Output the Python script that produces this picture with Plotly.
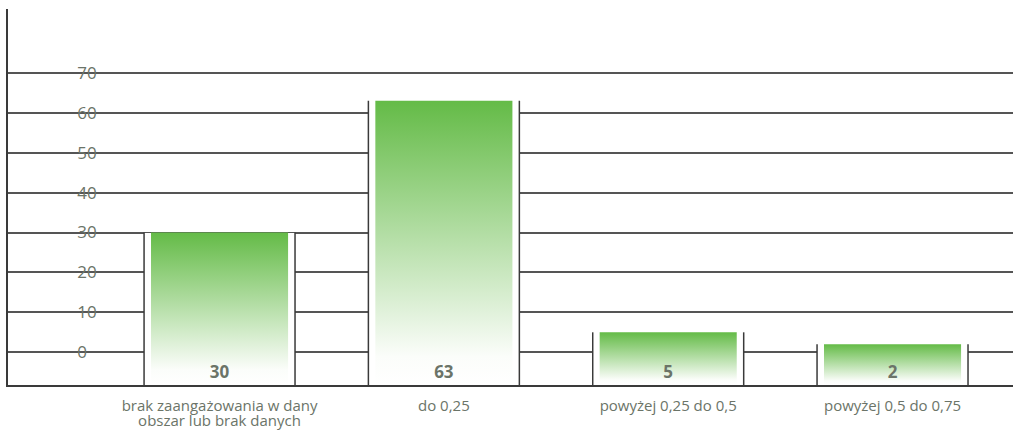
import plotly.graph_objects as go

categories = ["brak zaangażowania w dany<br>obszar lub brak danych", "do 0,25",
              "powyżej 0,25 do 0,5", "powyżej 0,5 do 0,75"]
values = [30, 63, 5, 2]
y_ticks = [0, 10, 20, 30, 40, 50, 60, 70]

# styling / layout constants
Y_MIN, Y_MAX = -8.2, 86.0
X_MIN, X_MAX = -0.943, 3.537
BAR_W = 0.611
GAP_W = 0.673
LABEL_Y = -5.4
TEXT_COLOR = "#6b7468"
LINE_COLOR = "#3a3a3a"
GREEN = "#64bb47"
FONT = "Open Sans"

xs = list(range(len(categories)))
line1 = [c.split("<br>")[0] for c in categories]
line2 = [c.split("<br>")[1] if "<br>" in c else "" for c in categories]

fig = go.Figure()

# white masks that interrupt gridlines around each bar
fig.add_trace(go.Bar(
    x=xs, y=[v - Y_MIN for v in values], base=Y_MIN, width=GAP_W,
    marker=dict(color="white", line=dict(width=0)),
    hoverinfo="skip", showlegend=False))

# vertical edge lines of masks
ex, ey = [], []
for i, v in zip(xs, values):
    for s in (-1, 1):
        ex += [i + s * GAP_W / 2, i + s * GAP_W / 2, None]
        ey += [Y_MIN, v, None]
fig.add_trace(go.Scatter(x=ex, y=ey, mode="lines",
                         line=dict(color=LINE_COLOR, width=1.5),
                         hoverinfo="skip", showlegend=False))

# gradient bars
for i, v in zip(xs, values):
    l, r = i - BAR_W / 2, i + BAR_W / 2
    fig.add_trace(go.Scatter(
        x=[l, r, r, l, l], y=[Y_MIN, Y_MIN, v, v, Y_MIN],
        mode="lines", fill="toself", line=dict(width=0, color="rgba(0,0,0,0)"),
        fillgradient=dict(type="vertical",
                          colorscale=[[0, "#ffffff"], [0.1, "#fbfdfa"], [1, GREEN]]),
        hoverinfo="skip", showlegend=False))

# value labels (on overlaying x2 axis, which carries the second label line)
fig.add_trace(go.Scatter(
    x=xs, y=[LABEL_Y] * len(xs), mode="text", text=[str(v) for v in values],
    xaxis="x2", yaxis="y",
    textfont=dict(family=FONT, size=17, color=TEXT_COLOR, weight="bold"),
    hoverinfo="skip", showlegend=False))

fig.update_layout(
    width=1013, height=430,
    margin=dict(l=8, r=0, t=9, b=45, autoexpand=False),
    plot_bgcolor="white", paper_bgcolor="white",
    font=dict(family=FONT, color=TEXT_COLOR),
    bargap=0,
    xaxis=dict(range=[X_MIN, X_MAX], tickmode="array", tickvals=xs, ticktext=line1,
               showgrid=False, zeroline=False, showline=True, linecolor=LINE_COLOR,
               linewidth=1.5, layer="below traces", ticks="", ticklabelstandoff=6,
               automargin=False,
               tickfont=dict(family=FONT, size=15, color=TEXT_COLOR)),
    xaxis2=dict(range=[X_MIN, X_MAX], overlaying="x", side="bottom",
                tickmode="array", tickvals=xs, ticktext=line2,
                showgrid=False, zeroline=False, showline=False, ticks="",
                ticklabelstandoff=25, automargin=False,
                tickfont=dict(family=FONT, size=15, color=TEXT_COLOR)),
    yaxis=dict(range=[Y_MIN, Y_MAX], tickmode="array", tickvals=y_ticks,
               showgrid=True, gridcolor="#555555", gridwidth=1.5, zeroline=False,
               showline=True, linecolor=LINE_COLOR, linewidth=1.5, automargin=False,
               layer="below traces", ticks="", ticklabelposition="inside",
               ticklabelstandoff=70,
               tickfont=dict(family=FONT, size=17, color=TEXT_COLOR)),
)

fig.write_html("out.html", config={"displayModeBar": False},
               post_script="document.body.style.margin='0px';")
